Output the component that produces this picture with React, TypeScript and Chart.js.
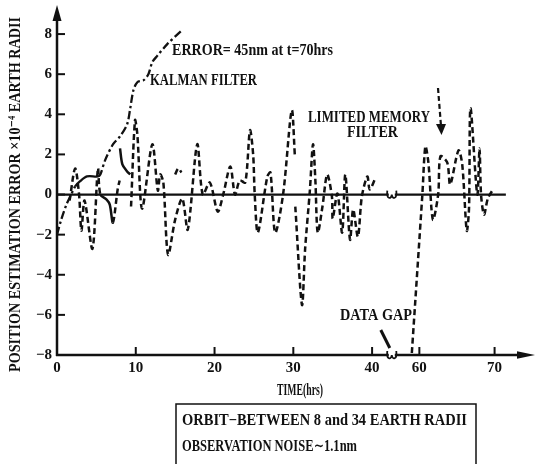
import React, { useEffect, useRef } from "react";
import { Chart, registerables } from "chart.js";

Chart.register(...registerables);

const SERIF = "'Liberation Serif', 'DejaVu Serif', serif";
const INK = "#111";

// ---- data (time in hours, error in 1e-4 earth radii) ----
const kalmanTimes = [0, 0.5, 1.2, 1.8, 2.3, 2.9, 3.8, 5.2, 5.5, 6.1, 7.1, 8.0, 8.9, 9.3, 9.7, 10.2, 11.0, 11.6, 12.1, 12.7, 14.0, 15.9];
const kalmanValues = [-2.0, -1.3, -0.5, 0.0, 0.4, 0.65, 0.9, 0.9, 1.0, 1.7, 2.5, 2.9, 3.5, 4.3, 5.2, 5.6, 5.7, 6.0, 6.6, 6.9, 7.5, 8.2];

const lmTimes = [
  1.6, 2.3, 2.8, 3.1, 3.5, 4.5, 5.2, 5.5, 6.3, 6.7, 7.1, 7.7, 7.95,
  7.97,
  8.0, 8.3, 8.9, 9.3,
  9.2,
  9.4, 9.9, 10.2, 10.8, 12.1, 12.8, 13.1, 13.5, 14.1, 15.0, 15.9, 16.6, 17.8,
  18.5, 19.4, 20.4, 21.1, 22.0, 22.6, 23.2, 23.9, 24.5, 24.9, 25.1, 25.5,
  26.7, 27.1, 27.7, 28.7, 29.8, 30.2,
  30.22,
  30.25, 31.1, 31.5, 32.1, 32.5, 32.8, 33.1, 33.7, 34.3, 34.9, 35.0, 35.6,
  36.2, 36.6, 37.2, 37.6, 38.2, 38.7, 39.4, 39.7, 40.4,
  40.5,
  15.0, 15.4, 15.8,
  15.9,
  59.0, 60.4, 60.8, 61.2, 61.8, 62.5, 62.8, 63.7, 64.1, 65.2, 65.7, 66.3,
  66.6, 66.8, 67.7, 68.0, 68.2, 68.6, 69.1, 69.7,
];
const lmValues = [
  -0.3, 1.3, 0.0, -1.8, -0.3, -2.7, 1.3, 0.0, -0.25, -0.5, -1.4, 0.25, 0.7,
  null,
  2.3, 1.5, 1.15, 1.0,
  null,
  -0.6, 3.7, 3.0, -0.7, 2.5, 0.2, 1.0, 0.6, -3.0, -1.25, -0.2, -1.75, 2.5,
  0.0, 0.6, -0.85, 0.0, 1.4, 0.0, 0.7, 0.6, 3.2, 2.0, 0.0, -1.9,
  0.9, 1.1, -1.9, 0.0, 4.2, 1.9,
  null,
  -0.6, -5.5, -2.7, 0.2, 2.5, 0.7, -1.9, -0.6, 1.0, -0.1, -1.2, 0.05,
  -1.9, 1.0, -2.25, -0.75, -2.1, -0.1, 0.9, 0.25, 0.8,
  null,
  1.0, 1.3, 1.1,
  null,
  -7.9, 0.0, 2.4, 1.6, -1.25, 0.0, 1.9, 1.6, 0.5, 2.2, 1.5, -1.8,
  -0.7, 4.3, 0.0, 2.3, 0.0, -1.0, -0.2, 0.2,
];

const xTickTimes = [0, 10, 20, 30, 40, 60, 70];
const yTickValues = [-8, -6, -4, -2, 0, 2, 4, 6, 8];

// axis break: hours 42.5 .. 56.5 are not shown
const BREAK_HOURS = 42.5;
function toAxis(t: number): number {
  return t <= 50 ? t : 46 + (t - 60) * 0.955;
}
const X_MAX = 60.3;

function fitText(ctx: any, text: string, x: number, y: number, width: number, size: number, rotate = false, weight = "bold") {
  ctx.save();
  ctx.font = `${weight} ${size}px ${SERIF}`;
  const w = ctx.measureText(text).width;
  ctx.translate(x, y);
  if (rotate) ctx.rotate(-Math.PI / 2);
  ctx.scale(width / w, 1);
  ctx.fillStyle = INK;
  ctx.textAlign = "left";
  ctx.textBaseline = "alphabetic";
  ctx.fillText(text, 0, 0);
  ctx.restore();
}

function squiggle(ctx: any, x: number, y: number) {
  ctx.save();
  ctx.strokeStyle = INK;
  ctx.lineWidth = 1.8;
  ctx.beginPath();
  ctx.moveTo(x - 4.5, y - 4);
  ctx.bezierCurveTo(x - 5.5, y + 5, x - 0.5, y + 5, x, y);
  ctx.bezierCurveTo(x + 0.5, y + 5, x + 5.5, y + 5, x + 4.5, y - 4);
  ctx.stroke();
  ctx.restore();
}

const overlay = {
  id: "overlay",
  afterDraw(chart: any) {
    const ctx = chart.ctx;
    const a = chart.chartArea;
    const xs = chart.scales.x;
    const ys = chart.scales.y;
    ctx.save();
    ctx.strokeStyle = INK;
    ctx.fillStyle = INK;
    ctx.lineCap = "butt";

    // zero line
    const y0 = ys.getPixelForValue(0);
    ctx.lineWidth = 2.2;
    ctx.beginPath();
    ctx.moveTo(a.left, y0);
    ctx.lineTo(xs.getPixelForValue(toAxis(71.5)), y0);
    ctx.stroke();

    // y axis with arrow
    ctx.lineWidth = 2.5;
    ctx.beginPath();
    ctx.moveTo(a.left, a.bottom + 1);
    ctx.lineTo(a.left, 18);
    ctx.stroke();
    ctx.beginPath();
    ctx.moveTo(a.left, 5);
    ctx.lineTo(a.left - 4.5, 21);
    ctx.lineTo(a.left + 4.5, 21);
    ctx.closePath();
    ctx.fill();

    // x axis with arrow
    ctx.beginPath();
    ctx.moveTo(a.left - 1, a.bottom);
    ctx.lineTo(522, a.bottom);
    ctx.stroke();
    ctx.beginPath();
    ctx.moveTo(535, a.bottom);
    ctx.lineTo(517, a.bottom - 3.8);
    ctx.lineTo(517, a.bottom + 3.8);
    ctx.closePath();
    ctx.fill();

    // tick marks (inside)
    ctx.lineWidth = 2;
    yTickValues.forEach((v) => {
      const py = ys.getPixelForValue(v);
      ctx.beginPath();
      ctx.moveTo(a.left, py);
      ctx.lineTo(a.left + 8, py);
      ctx.stroke();
    });
    xTickTimes.forEach((t) => {
      const px = xs.getPixelForValue(toAxis(t));
      ctx.beginPath();
      ctx.moveTo(px, a.bottom);
      ctx.lineTo(px, a.bottom - 8);
      ctx.stroke();
    });

    // axis break marks
    const bx = xs.getPixelForValue(BREAK_HOURS);
    ctx.fillStyle = "#fff";
    ctx.fillRect(bx - 3, y0 - 2, 6, 4);
    ctx.fillRect(bx - 3, a.bottom - 2, 6, 4);
    ctx.fillStyle = INK;
    squiggle(ctx, bx, y0);
    squiggle(ctx, bx, a.bottom);

    // DATA GAP pointer
    ctx.lineWidth = 3;
    ctx.beginPath();
    ctx.moveTo(bx - 11, a.bottom - 25);
    ctx.lineTo(bx - 2, a.bottom - 7);
    ctx.stroke();

    // limited memory pointer arrow (dashed)
    ctx.lineWidth = 2.2;
    ctx.setLineDash([5, 3]);
    ctx.beginPath();
    ctx.moveTo(438, 88);
    ctx.lineTo(441, 126);
    ctx.stroke();
    ctx.setLineDash([]);
    ctx.beginPath();
    ctx.moveTo(441.5, 135);
    ctx.lineTo(436, 124);
    ctx.lineTo(446, 124);
    ctx.closePath();
    ctx.fill();

    // texts
    fitText(ctx, "ERROR= 45nm at t=70hrs", 172, 55, 161, 17);
    fitText(ctx, "KALMAN FILTER", 150, 85, 107, 17);
    fitText(ctx, "LIMITED MEMORY", 308, 122, 122, 17);
    fitText(ctx, "FILTER", 347, 137, 51, 17);
    fitText(ctx, "DATA GAP", 340, 320, 72, 17);
    fitText(ctx, "TIME(hrs)", 277, 395, 46, 16);
    fitText(ctx, "POSITION ESTIMATION ERROR \u00d710\u207b\u2074 EARTH RADII", 20, 372, 355, 17, true);

    // info box
    ctx.lineWidth = 1.5;
    ctx.strokeRect(176, 404, 300, 70);
    fitText(ctx, "ORBIT\u2212BETWEEN 8 and 34 EARTH RADII", 182, 425, 285, 16);
    fitText(ctx, "OBSERVATION NOISE\u223c1.1nm", 182, 451, 175, 16);

    ctx.restore();
  },
};

export default function App() {
  const ref = useRef<HTMLCanvasElement | null>(null);

  useEffect(() => {
    if (!ref.current) return;
    const kalmanData = kalmanTimes.map((t, i) => ({ x: toAxis(t), y: kalmanValues[i] }));
    const lmData = lmTimes.map((t, i) => ({ x: toAxis(t), y: lmValues[i] }));

    const chart = new Chart(ref.current, {
      type: "line",
      data: {
        datasets: [
          {
            label: "Kalman filter",
            data: kalmanData,
            borderColor: INK,
            borderWidth: 2.3,
            borderDash: [8, 3, 2.5, 3],
            pointRadius: 0,
            tension: 0.3,
            fill: false,
            segment: {
              borderDash: (c: any) =>
                c.p0.parsed.x >= 2.25 && c.p1.parsed.x <= 5.25 ? [] : undefined,
            },
          },
          {
            label: "Limited memory filter",
            data: lmData,
            borderColor: INK,
            borderWidth: 2.5,
            borderDash: [6, 3.5],
            pointRadius: 0,
            tension: 0.3,
            spanGaps: false,
            fill: false,
            segment: {
              borderDash: (c: any) => {
                const a = c.p0.parsed.x;
                const b = c.p1.parsed.x;
                if ((a >= 5.45 && b <= 7.15) || (a >= 7.99 && b <= 9.35)) return [];
                return undefined;
              },
            },
          },
        ],
      },
      options: {
        animation: false,
        responsive: true,
        maintainAspectRatio: false,
        layout: { padding: { top: 5, right: 3, left: 0, bottom: 0 } },
        plugins: {
          legend: { display: false },
          tooltip: { enabled: false },
          title: { display: false },
        },
        scales: {
          x: {
            type: "linear",
            min: 0,
            max: X_MAX,
            grid: { display: false, drawTicks: false },
            border: { display: false },
            afterBuildTicks: (s: any) => {
              s.ticks = xTickTimes.map((t) => ({ value: toAxis(t) }));
            },
            afterFit: (s: any) => {
              s.height = 109;
            },
            ticks: {
              autoSkip: false,
              maxRotation: 0,
              padding: 4,
              color: INK,
              font: { family: SERIF, size: 15, weight: "bold" },
              callback: (_v: any, i: number) => String(xTickTimes[i]),
            },
          },
          y: {
            type: "linear",
            min: -8,
            max: 9.0,
            grid: { display: false, drawTicks: false },
            border: { display: false },
            afterBuildTicks: (s: any) => {
              s.ticks = yTickValues.map((v) => ({ value: v }));
            },
            afterFit: (s: any) => {
              s.width = 57;
            },
            ticks: {
              padding: 5,
              color: INK,
              font: { family: SERIF, size: 15, weight: "bold" },
              callback: (v: any) => (v < 0 ? "\u2212" + Math.abs(v) : String(v)),
            },
          },
        },
      },
      plugins: [overlay],
    } as any);

    return () => chart.destroy();
  }, []);

  return (
    <div style={{ position: "fixed", left: 0, top: 0, width: 535, height: 464, background: "#fff" }}>
      <canvas ref={ref} />
    </div>
  );
}
